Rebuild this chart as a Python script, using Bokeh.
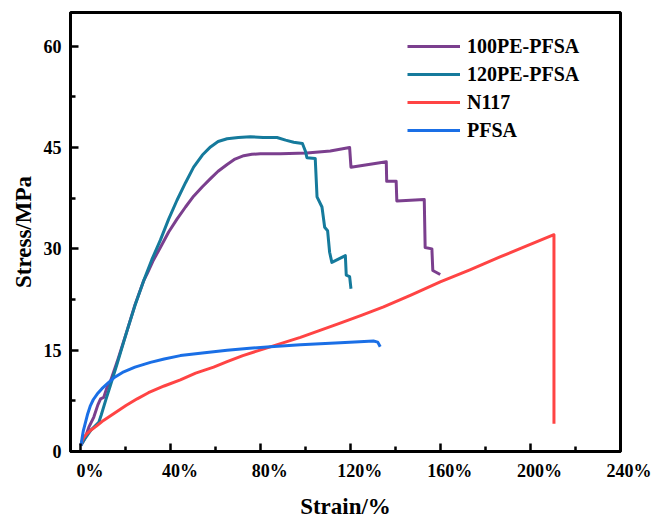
from bokeh.plotting import figure
from bokeh.models import Range1d, FixedTicker, Legend, LegendItem
from bokeh.embed import file_html
from bokeh.resources import INLINE

# ---- data (strain in %, stress in MPa) ----
pe100_strain = [0, 1, 2, 3.5, 5.7, 7.5, 8.7, 10.1, 11.6, 13.1, 16, 20.5, 24, 27.9, 29.4, 32,
                35.3, 39, 42.7, 46.5, 50.1, 54, 57.6, 61, 65, 68.5, 72.4, 76, 79.8, 88.7,
                100.5, 110.9, 119.5, 120.1, 135.8, 136.0, 140.2, 140.5, 152.7, 153.1,
                156.1, 156.5, 159.8]
pe100_stress = [1.0, 1.5, 2.2, 3.6, 5.1, 6.9, 7.8, 8.0, 9.5, 10.4, 13.2, 17.9, 21.7, 25.3, 26.3, 28.2,
                30.2, 32.5, 34.4, 36.2, 37.8, 39.2, 40.4, 41.5, 42.5, 43.3, 43.8, 44.0, 44.1, 44.1,
                44.2, 44.5, 45.0, 42.1, 42.9, 40.0, 40.0, 37.1, 37.3, 30.2,
                30.0, 26.8, 26.2]

pe120_strain = [0, 1, 2, 3, 4.5, 6, 7.9, 9, 11, 13.1, 16, 20.5, 24, 27.9, 31.5, 35.3, 39, 42.7,
                46.5, 50.1, 54, 57.6, 61, 65, 70, 75.3, 81, 87.2, 91, 94.6, 98.5, 99.8, 100.5,
                104.2, 105.0, 107.2, 108.4, 109.7, 110.6, 111.6, 117.6, 118.0, 119.5, 120.1]
pe120_stress = [0.9, 1.5, 2.0, 2.5, 3.2, 3.7, 4.3, 5.4, 7.6, 9.8, 12.9, 17.9, 21.6, 25.3, 28.4, 31.3, 34.4, 37.2,
                39.8, 42.1, 43.9, 45.1, 45.9, 46.3, 46.5, 46.6, 46.5, 46.5, 46.1, 45.8, 45.6, 44.5, 43.5,
                43.4, 37.7, 36.2, 33.2, 32.7, 29.5, 28.0, 29.0, 26.1, 25.9, 24.1]

n117_strain = [0, 0.5, 1.3, 2.5, 4.2, 7, 10, 15, 20, 25, 30, 37, 44.2, 51, 59, 65, 72, 84.2,
               97.6, 106, 115.3, 125, 134.6, 147, 159.8, 173, 186.4, 198, 210.4, 210.4]
n117_stress = [1.0, 1.6, 2.1, 2.6, 3.1, 3.8, 4.6, 5.7, 6.8, 7.8, 8.7, 9.7, 10.6, 11.6, 12.5, 13.3, 14.2, 15.5,
               16.9, 17.9, 19.0, 20.2, 21.4, 23.2, 25.1, 26.9, 28.8, 30.4, 32.1, 4.1]

pfsa_strain = [0, 0.5, 1, 2, 3, 4.2, 5.5, 7.2, 9.3, 11.6, 15, 19, 24, 30.9, 37, 44.2, 54, 65, 75,
               84.2, 97.6, 115.3, 126, 130.1, 132.0, 133.1]
pfsa_stress = [0.9, 2.0, 3.0, 4.3, 5.6, 6.8, 7.7, 8.5, 9.3, 10.0, 11.0, 11.8, 12.5, 13.2, 13.7, 14.2, 14.6, 15.0, 15.3,
               15.5, 15.8, 16.1, 16.3, 16.35, 16.2, 15.5]

series_names = ["100PE-PFSA", "120PE-PFSA", "N117", "PFSA"]
series_colors = ["#7b3f8e", "#157a9c", "#ff4444", "#1a6fe6"]

x_ticks = [0, 40, 80, 120, 160, 200, 240]
x_tick_labels = ["0%", "40%", "80%", "120%", "160%", "200%", "240%"]
x_minor = [20, 60, 100, 140, 180, 220]
y_ticks = [0, 15, 30, 45, 60]
y_minor = [7.5, 22.5, 37.5, 52.5]

FONT = "Liberation Serif"
NBSP = "\u00a0"

p = figure(frame_width=550, frame_height=439, output_backend="svg", toolbar_location=None,
           x_range=Range1d(-4.67, 240), y_range=Range1d(0, 65),
           min_border_left=70, min_border_right=31, min_border_top=12, min_border_bottom=61,
           background_fill_color="white", border_fill_color="white")

p.xgrid.visible = False
p.ygrid.visible = False
p.outline_line_color = "black"
p.outline_line_width = 3
p.outline_line_alpha = 1

p.xaxis.ticker = FixedTicker(ticks=x_ticks, minor_ticks=x_minor)
# labels sit slightly right of their ticks in the reference: pad with leading no-break spaces
p.xaxis.major_label_overrides = {t: NBSP * 4 + s for t, s in zip(x_ticks, x_tick_labels)}
p.yaxis.ticker = FixedTicker(ticks=y_ticks, minor_ticks=y_minor)
p.xaxis.axis_label = "Strain/%"
p.yaxis.axis_label = "Stress/MPa"

for ax in (p.xaxis[0], p.yaxis[0]):
    ax.axis_line_width = 3
    ax.axis_line_color = "black"
    ax.major_tick_line_width = 2.5
    ax.minor_tick_line_width = 2.5
    ax.major_tick_in = 8
    ax.major_tick_out = 0
    ax.minor_tick_in = 5
    ax.minor_tick_out = 0
    ax.major_label_text_font = FONT
    ax.major_label_text_font_style = "bold"
    ax.major_label_text_font_size = "18px"
    ax.major_label_text_color = "black"
    ax.major_label_standoff = 9
    ax.axis_label_text_font = FONT
    ax.axis_label_text_font_style = "bold"
    ax.axis_label_text_font_size = "23px"
    ax.axis_label_text_color = "black"
    ax.axis_label_standoff = 10
p.yaxis.axis_label_standoff = 5

renderers = []
for xs, ys, c in [(pe100_strain, pe100_stress, series_colors[0]),
                  (pe120_strain, pe120_stress, series_colors[1]),
                  (n117_strain, n117_stress, series_colors[2]),
                  (pfsa_strain, pfsa_stress, series_colors[3])]:
    r = p.line(xs, ys, line_color=c, line_width=3, line_join="round")
    renderers.append(r)

legend = Legend(items=[LegendItem(label=n, renderers=[r]) for n, r in zip(series_names, renderers)],
                location=(337, 307), orientation="vertical",
                glyph_width=53, glyph_height=28, label_height=28, spacing=0, padding=0,
                label_standoff=7, border_line_alpha=0, background_fill_alpha=0,
                label_text_font=FONT, label_text_font_style="bold",
                label_text_font_size="20px", label_text_color="black")
p.add_layout(legend)

open("out.html", "w").write(file_html(p, INLINE))
